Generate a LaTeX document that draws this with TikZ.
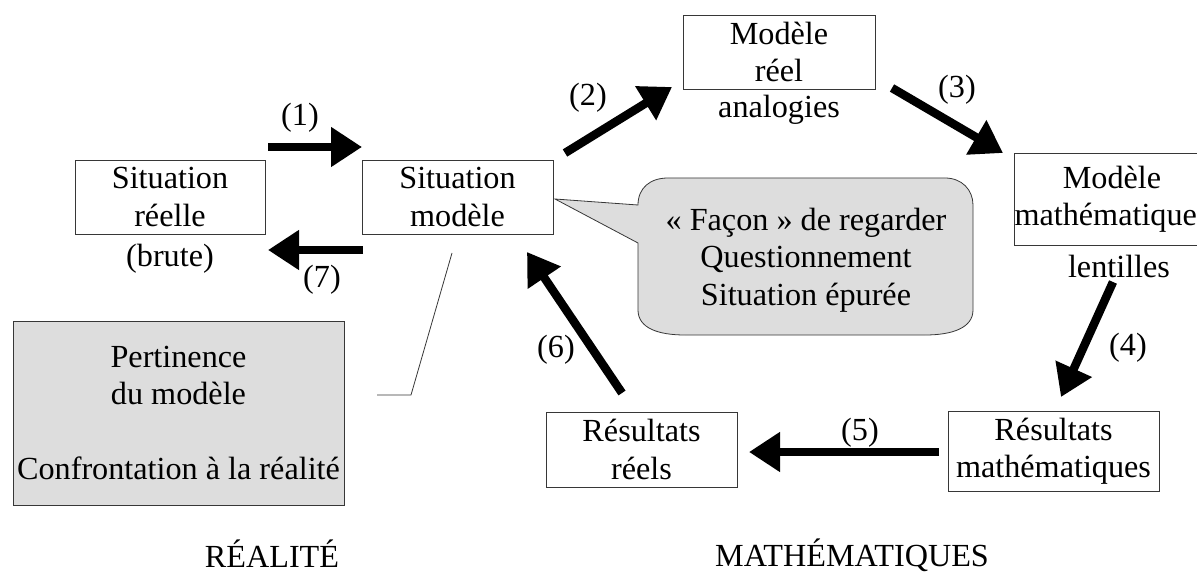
\documentclass[tikz,border=0pt]{standalone}
\usepackage{fontspec}
\setmainfont{Liberation Serif}
\usetikzlibrary{arrows.meta}
\definecolor{lgray}{RGB}{221,221,221}
\definecolor{edgec}{RGB}{55,55,55}
\begin{document}
\begin{tikzpicture}[x=1pt,y=-1pt,
  every node/.style={font=\fontsize{32.2pt}{37.5pt}\selectfont, inner sep=0pt, outer sep=0pt},
  box/.style={draw=edgec, line width=0.9pt, align=center, minimum height=74pt},
  bigarrow/.style={line width=8.5pt, -{Triangle[length=31pt,width=38pt]}},
  thin/.style={draw=edgec, line width=0.8pt}]
\useasboundingbox (0,0) rectangle (1197,575);

% boxes
\node[box, minimum width=190pt] (sr) at (170,197) {Situation\\réelle};
\node[anchor=base] (brute) at (170,266) {(brute)};
\node[box, minimum width=191pt] (sm) at (457.5,197) {Situation\\modèle};
\node[box, minimum width=192pt] (mr) at (779,52) {Modèle\\réel};
\node[anchor=base] (ana) at (779,118) {analogies};
\node[box, minimum width=194pt, minimum height=92pt] (mm) at (1112,199) {Modèle\\mathématiques};
\node[anchor=base] (lent) at (1119,277) {lentilles};
\node[box, minimum width=191pt, minimum height=75pt] (rr) at (641.5,449.5) {Résultats\\réels};
\node[box, minimum width=211pt, minimum height=80pt] (rm) at (1053.5,451) {Résultats\\mathématiques};
\node[box, fill=lgray, minimum width=331pt, minimum height=184pt] (pert) at (178.5,413) {Pertinence\\du modèle\\\strut\\Confrontation à la réalité};

% speech bubble
\coordinate (tip) at (555,199);
\draw[thin, fill=lgray] (638,243) -- (tip) -- (638,205)
  .. controls (638,188) and (650,178) .. (668,178) -- (945,178)
  .. controls (962,178) and (973,190) .. (973,205) -- (973,310)
  .. controls (973,328) and (952,335) .. (925,335) -- (685,335)
  .. controls (658,335) and (638,328) .. (638,310) -- cycle;
\node[align=center] (bub) at (806,260) {«~Façon~» de regarder\\Questionnement\\Situation épurée};

% thin line from Pertinence to Situation modele
\coordinate (t1) at (377,395);
\coordinate (t2) at (411,395);
\coordinate (t3) at (452,253);
\draw[thin] (t1) -- (t2) -- (t3);

% arrows
\coordinate (a1s) at (268,147); \coordinate (a1e) at (362,147);
\coordinate (a2s) at (565,153); \coordinate (a2e) at (672,87);
\coordinate (a3s) at (892,88);  \coordinate (a3e) at (1003,153);
\coordinate (a4s) at (1113,282); \coordinate (a4e) at (1061,397);
\coordinate (a5s) at (939,452); \coordinate (a5e) at (749,452);
\coordinate (a6s) at (622,393); \coordinate (a6e) at (527,252);
\coordinate (a7s) at (363,250); \coordinate (a7e) at (268,250);
\draw[bigarrow] (a1s) -- (a1e);
\draw[bigarrow] (a2s) -- (a2e);
\draw[bigarrow] (a3s) -- (a3e);
\draw[bigarrow] (a4s) -- (a4e);
\draw[bigarrow] (a5s) -- (a5e);
\draw[bigarrow] (a6s) -- (a6e);
\draw[bigarrow] (a7s) -- (a7e);

% labels
\node (l1) at (300,118) {(1)};
\node (l2) at (588,98) {(2)};
\node (l3) at (957,90) {(3)};
\node (l4) at (1128,348) {(4)};
\node (l5) at (860,433) {(5)};
\node (l6) at (556,350) {(6)};
\node (l7) at (322,280) {(7)};

\node (realite) at (272,554) {RÉALITÉ};
\node (maths) at (852,555) {MATHÉMATIQUES};
\end{tikzpicture}
\end{document}
